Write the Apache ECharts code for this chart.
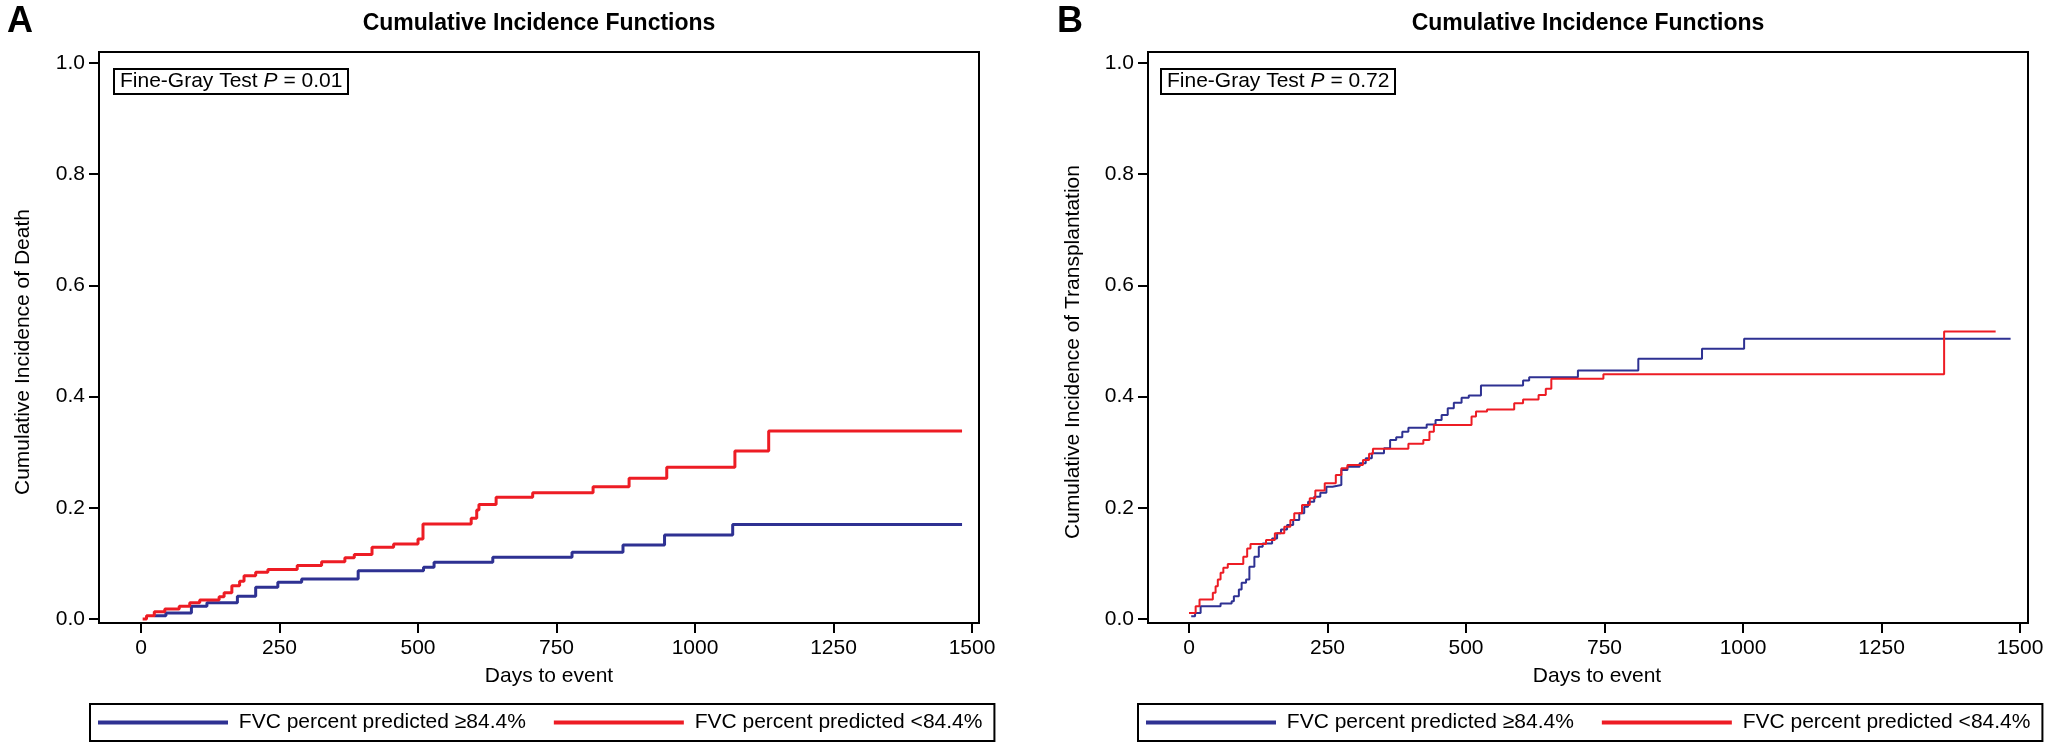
<html>
<head>
<meta charset="UTF-8">
<title>Cumulative Incidence Functions</title>
<script src="https://cdn.jsdelivr.net/npm/echarts@6/dist/echarts.min.js"></script>
<style>
    html, body { margin: 0; padding: 0; background: #fff; }
    #main { width: 2048px; height: 749px; }
</style>
</head>
<body>
<div id="main"></div>
<script>
// panel A: death
var deathHiDays = [24, 45, 91, 119, 174, 207, 247, 290, 392, 510, 529, 635, 778, 870, 945, 1068, 1482];
var deathHiVals = [0.006, 0.011, 0.023, 0.029, 0.041, 0.057, 0.066, 0.072, 0.087, 0.093, 0.102, 0.111, 0.120, 0.133, 0.151, 0.170, 0.170];
var deathLoDays = [3, 10, 24, 43, 69, 88, 106, 141, 150, 164, 178, 186, 207, 229, 282, 326, 368, 385, 417, 456, 500, 509, 596, 606, 610, 641, 707, 816, 881, 949, 1072, 1133, 1482];
var deathLoVals = [0, 0.006, 0.013, 0.018, 0.023, 0.029, 0.034, 0.040, 0.047, 0.060, 0.068, 0.078, 0.084, 0.089, 0.096, 0.103, 0.110, 0.116, 0.129, 0.135, 0.144, 0.171, 0.181, 0.196, 0.206, 0.219, 0.227, 0.238, 0.253, 0.273, 0.302, 0.338, 0.338];

// panel B: transplantation
var txHiDays = [4, 11, 21, 57, 77, 81, 90, 95, 103, 109, 118, 126, 133, 150, 159, 166, 177, 188, 199, 208, 215, 226, 237, 248, 259, 275, 286, 308, 319, 330, 352, 363, 374, 385, 396, 429, 445, 456, 467, 478, 492, 505, 527, 603, 614, 702, 811, 926, 1002, 1483];
var txHiVals = [0.005, 0.011, 0.023, 0.028, 0.032, 0.041, 0.053, 0.065, 0.071, 0.094, 0.112, 0.130, 0.136, 0.145, 0.154, 0.161, 0.169, 0.178, 0.190, 0.202, 0.211, 0.220, 0.227, 0.238, 0.241, 0.268, 0.274, 0.280, 0.289, 0.298, 0.307, 0.322, 0.327, 0.337, 0.344, 0.350, 0.358, 0.367, 0.379, 0.389, 0.398, 0.402, 0.420, 0.429, 0.435, 0.447, 0.468, 0.486, 0.504, 0.504];
var txLoDays = [0, 12, 19, 43, 48, 52, 57, 62, 70, 98, 105, 111, 139, 155, 172, 183, 190, 204, 218, 228, 245, 265, 275, 286, 314, 325, 332, 396, 423, 434, 442, 510, 518, 538, 587, 603, 631, 644, 654, 748, 1363, 1456];
var txLoVals = [0.011, 0.023, 0.035, 0.047, 0.059, 0.071, 0.083, 0.092, 0.099, 0.112, 0.127, 0.135, 0.142, 0.154, 0.166, 0.178, 0.190, 0.205, 0.217, 0.231, 0.244, 0.259, 0.271, 0.277, 0.286, 0.297, 0.306, 0.315, 0.322, 0.337, 0.349, 0.364, 0.373, 0.377, 0.388, 0.395, 0.403, 0.414, 0.432, 0.440, 0.517, 0.517];

var xTicks = [0, 250, 500, 750, 1000, 1250, 1500];
var yTicks = [0, 0.2, 0.4, 0.6, 0.8, 1.0];
var groupNames = ['FVC percent predicted \u226584.4%', 'FVC percent predicted <84.4%'];
var pValues = ['0.01', '0.72'];
var xName = 'Days to event';
var yNames = ['Cumulative Incidence of Death', 'Cumulative Incidence of Transplantation'];

var FONT = 'Liberation Sans, Arial, Helvetica, sans-serif';
var BLUE = '#2e3192';
var RED = '#ed1c24';

function pairs(days, vals) {
    var out = [];
    for (var i = 0; i < days.length; i++) out.push([days[i], vals[i]]);
    return out;
}

function xAxisFor(idx, min, max) {
    return {
        type: 'value', gridIndex: idx, min: min, max: max,
        axisLine: { onZero: false, lineStyle: { color: '#000', width: 2 } },
        axisTick: { customValues: xTicks, length: 10, lineStyle: { color: '#000', width: 2 } },
        axisLabel: { customValues: xTicks, margin: 15, fontSize: 21, fontFamily: FONT, color: '#000',
            formatter: function (v) { return String(v); } },
        splitLine: { show: false }
    };
}

function yAxisFor(idx) {
    return {
        type: 'value', gridIndex: idx, min: -0.0072, max: 1.0198,
        axisLine: { onZero: false, lineStyle: { color: '#000', width: 2 } },
        axisTick: { customValues: yTicks, length: 10, lineStyle: { color: '#000', width: 2 } },
        axisLabel: { customValues: yTicks, margin: 14, fontSize: 21, fontFamily: FONT, color: '#000',
            formatter: function (v) { return v.toFixed(1); } },
        splitLine: { show: false }
    };
}

function stepSeries(name, color, width, idx, data) {
    return {
        name: name, type: 'line', step: 'end', showSymbol: false, symbol: 'none',
        xAxisIndex: idx, yAxisIndex: idx,
        lineStyle: { color: color, width: width }, itemStyle: { color: color },
        data: data
    };
}

function pBox(left, p) {
    return {
        left: left, top: 69, padding: [2, 6],
        borderColor: '#000', borderWidth: 2,
        text: '{n|Fine-Gray Test }{i|P}{n| = ' + p + '}',
        textStyle: {
            fontFamily: FONT, fontSize: 21, fontWeight: 'normal', color: '#000',
            rich: {
                n: { fontFamily: FONT, fontSize: 21, color: '#000' },
                i: { fontFamily: FONT, fontSize: 21, color: '#000', fontStyle: 'italic' }
            }
        }
    };
}

function legendFor(left) {
    return {
        left: left, top: 704, orient: 'horizontal',
        data: groupNames, icon: 'rect', itemWidth: 130, itemHeight: 4, itemGap: 28,
        borderColor: '#000', borderWidth: 2, padding: [8, 12, 8, 8],
        formatter: function (n) { return ' ' + n; },
        textStyle: { fontSize: 21, fontFamily: FONT, color: '#000' }
    };
}

function label(x, y, text, font, rot) {
    return {
        type: 'text', x: x, y: y, rotation: rot || 0,
        style: { text: text, font: font, fill: '#000',
            align: 'center', verticalAlign: 'middle', textAlign: 'center', textVerticalAlign: 'middle' }
    };
}

var chart = echarts.init(document.getElementById('main'));
chart.setOption({
    animation: false,
    backgroundColor: '#fff',
    title: [pBox(114, pValues[0]), pBox(1161, pValues[1])],
    graphic: [
        label(20, 22, 'A', 'bold 36px ' + FONT),
        label(1070, 22, 'B', 'bold 36px ' + FONT),
        label(539, 24, 'Cumulative Incidence Functions', 'bold 23px ' + FONT),
        label(1588, 24, 'Cumulative Incidence Functions', 'bold 23px ' + FONT),
        label(549, 676, xName, '21px ' + FONT),
        label(1597, 676, xName, '21px ' + FONT),
        label(23, 352, yNames[0], '21px ' + FONT, Math.PI / 2),
        label(1073, 352, yNames[1], '21px ' + FONT, Math.PI / 2)
    ],
    legend: [legendFor(90), legendFor(1138)],
    grid: [
        { left: 99, right: 1069, top: 52, bottom: 126, show: true, borderColor: '#000', borderWidth: 2 },
        { left: 1148, right: 20, top: 52, bottom: 126, show: true, borderColor: '#000', borderWidth: 2 }
    ],
    xAxis: [xAxisFor(0, -75.8, 1512.6), xAxisFor(1, -74, 1514.4)],
    yAxis: [yAxisFor(0), yAxisFor(1)],
    series: [
        stepSeries(groupNames[0], BLUE, 3, 0, pairs(deathHiDays, deathHiVals)),
        stepSeries(groupNames[1], RED, 3, 0, pairs(deathLoDays, deathLoVals)),
        stepSeries(groupNames[0], BLUE, 2, 1, pairs(txHiDays, txHiVals)),
        stepSeries(groupNames[1], RED, 2, 1, pairs(txLoDays, txLoVals))
    ]
});
</script>
</body>
</html>
